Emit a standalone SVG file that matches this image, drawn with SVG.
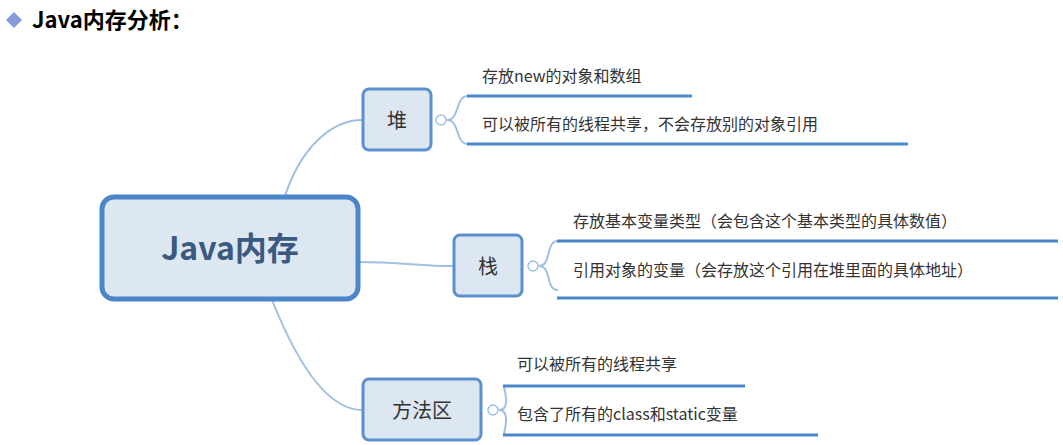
<svg xmlns="http://www.w3.org/2000/svg" width="1063" height="445" viewBox="0 0 1063 445">
<style>
text{font-family:"Noto Sans CJK SC","Noto Sans",sans-serif;fill:#333}
.leaf{font-size:16px}
.ul{stroke:#4a86c8;stroke-width:3}
.con{fill:none;stroke:#9fc0e4;stroke-width:2}
.sub{fill:#dde7f2;stroke:#5b8fd0;stroke-width:3}
.tog{fill:#fff;stroke:#9fc0e4;stroke-width:1.5}
</style>
<rect width="1063" height="445" fill="#fff"/>
<g id="title">
<polygon points="14,12 22,20 14,28 6,20" fill="#8899dd"/>
<text x="32" y="28" font-size="22" font-weight="bold" style="fill:#000">Java内存分析：</text>
</g>
<g id="connectors">
<path class="con" d="M285,196 C300,150 330,120 362,120"/>
<path class="con" d="M359,262 C400,262 420,266 453,266"/>
<path class="con" d="M272,300 C300,370 330,410 362,410"/>
<path class="con" d="M447,120 C460,120 455,96 468,96"/>
<path class="con" d="M447,120 C460,120 455,144 468,144"/>
<path class="con" d="M539,266 C552,266 545,241 558,241"/>
<path class="con" d="M539,266 C552,266 545,290 558,290"/>
<path class="con" d="M499,410 C512,410 503,386 504,386"/>
<path class="con" d="M499,410 C512,410 503,435 504,435"/>
</g>
<g id="main">
<rect x="102" y="197" width="256" height="102" rx="12" fill="#dde7f2" stroke="#4a86c8" stroke-width="5"/>
<text x="230" y="260" font-size="32" font-weight="bold" text-anchor="middle" style="fill:#3a5a80">Java内存</text>
</g>
<g id="heap">
<rect class="sub" x="363" y="89" width="68" height="61" rx="6"/>
<text x="397" y="128" font-size="20" text-anchor="middle">堆</text>
<circle class="tog" cx="441" cy="120" r="5"/>
<text class="leaf" x="482" y="82">存放new的对象和数组</text>
<line class="ul" x1="467" y1="96" x2="692" y2="96"/>
<text class="leaf" x="482" y="130">可以被所有的线程共享，不会存放别的对象引用</text>
<line class="ul" x1="467" y1="144" x2="908" y2="144"/>
</g>
<g id="stack">
<rect class="sub" x="454" y="235" width="68" height="61" rx="6"/>
<text x="488" y="274" font-size="20" text-anchor="middle">栈</text>
<circle class="tog" cx="533" cy="266" r="5"/>
<text class="leaf" x="573" y="227">存放基本变量类型（会包含这个基本类型的具体数值）</text>
<line class="ul" x1="557" y1="241" x2="1058" y2="241"/>
<text class="leaf" x="573" y="276">引用对象的变量（会存放这个引用在堆里面的具体地址）</text>
<line class="ul" x1="557" y1="298" x2="1058" y2="298"/>
</g>
<g id="method">
<rect class="sub" x="363" y="379" width="118" height="61" rx="6"/>
<text x="422" y="418" font-size="20" text-anchor="middle">方法区</text>
<circle class="tog" cx="493" cy="410" r="5"/>
<text class="leaf" x="517" y="370">可以被所有的线程共享</text>
<line class="ul" x1="503" y1="386" x2="745" y2="386"/>
<text class="leaf" x="517" y="420">包含了所有的class和static变量</text>
<line class="ul" x1="503" y1="435" x2="818" y2="435"/>
</g>
</svg>
